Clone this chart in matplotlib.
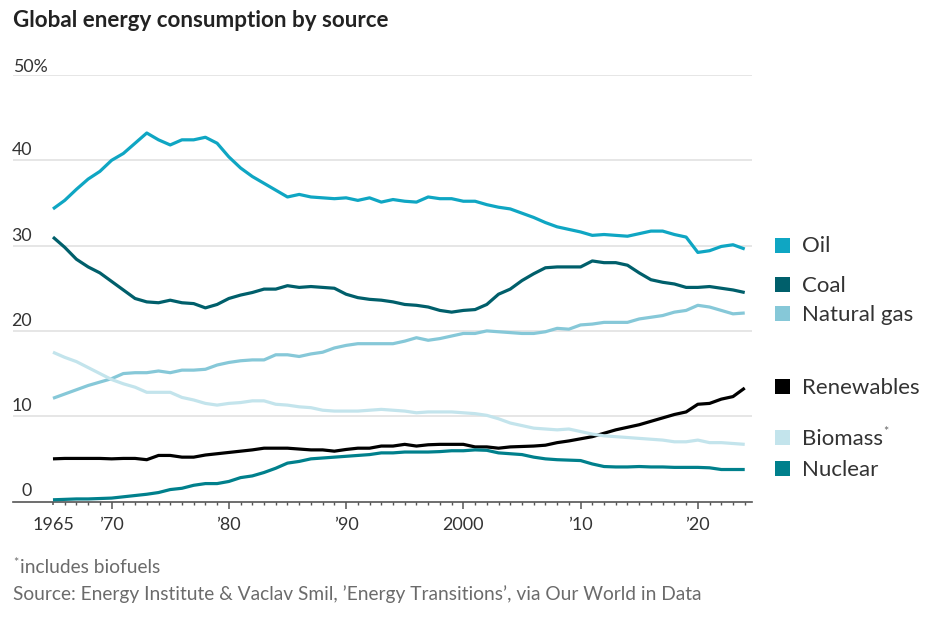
import matplotlib
matplotlib.use("Agg")
import matplotlib.pyplot as plt
from matplotlib.patches import Rectangle
import numpy as np

# ---------------- data ----------------
years = list(range(1965, 2025))

oil = [34.3, 35.3, 36.6, 37.8, 38.7, 40.0, 40.8, 42.0, 43.2, 42.4,
       41.8, 42.4, 42.4, 42.7, 42.0, 40.4, 39.1, 38.1, 37.3, 36.5,
       35.7, 36.0, 35.7, 35.6, 35.5, 35.6, 35.3, 35.6, 35.1, 35.4,
       35.2, 35.1, 35.7, 35.5, 35.5, 35.2, 35.2, 34.8, 34.5, 34.3,
       33.8, 33.3, 32.7, 32.2, 31.9, 31.6, 31.2, 31.3, 31.2, 31.1,
       31.4, 31.7, 31.7, 31.3, 31.0, 29.2, 29.4, 29.9, 30.1, 29.6]

coal = [31.0, 29.8, 28.4, 27.5, 26.8, 25.8, 24.8, 23.8, 23.4, 23.3,
        23.6, 23.3, 23.2, 22.7, 23.1, 23.8, 24.2, 24.5, 24.9, 24.9,
        25.3, 25.1, 25.2, 25.1, 25.0, 24.3, 23.9, 23.7, 23.6, 23.4,
        23.1, 23.0, 22.8, 22.4, 22.2, 22.4, 22.5, 23.1, 24.3, 24.9,
        25.9, 26.7, 27.4, 27.5, 27.5, 27.5, 28.2, 28.0, 28.0, 27.7,
        26.8, 26.0, 25.7, 25.5, 25.1, 25.1, 25.2, 25.0, 24.8, 24.5]

natural_gas = [12.1, 12.6, 13.1, 13.6, 14.0, 14.4, 15.0, 15.1, 15.1, 15.3,
               15.1, 15.4, 15.4, 15.5, 16.0, 16.3, 16.5, 16.6, 16.6, 17.2,
               17.2, 17.0, 17.3, 17.5, 18.0, 18.3, 18.5, 18.5, 18.5, 18.5,
               18.8, 19.2, 18.9, 19.1, 19.4, 19.7, 19.7, 20.0, 19.9, 19.8,
               19.7, 19.7, 19.9, 20.3, 20.2, 20.7, 20.8, 21.0, 21.0, 21.0,
               21.4, 21.6, 21.8, 22.2, 22.4, 23.0, 22.8, 22.4, 22.0, 22.1]

renewables = [5.0, 5.05, 5.05, 5.05, 5.05, 5.0, 5.05, 5.05, 4.9, 5.4,
              5.4, 5.2, 5.2, 5.45, 5.6, 5.75, 5.9, 6.05, 6.25, 6.25,
              6.25, 6.15, 6.05, 6.05, 5.9, 6.1, 6.25, 6.25, 6.5, 6.5,
              6.7, 6.5, 6.65, 6.7, 6.7, 6.7, 6.4, 6.4, 6.25, 6.4,
              6.45, 6.5, 6.6, 6.9, 7.1, 7.35, 7.6, 8.0, 8.4, 8.7,
              9.0, 9.4, 9.8, 10.2, 10.5, 11.4, 11.5, 12.0, 12.3, 13.3]

biomass = [17.5, 16.9, 16.4, 15.7, 15.0, 14.3, 13.8, 13.4, 12.8, 12.8,
           12.8, 12.2, 11.9, 11.5, 11.3, 11.5, 11.6, 11.8, 11.8, 11.4,
           11.3, 11.1, 11.0, 10.7, 10.6, 10.6, 10.6, 10.7, 10.8, 10.7,
           10.6, 10.4, 10.5, 10.5, 10.5, 10.4, 10.3, 10.1, 9.7, 9.2,
           8.9, 8.6, 8.5, 8.4, 8.5, 8.2, 7.9, 7.7, 7.6, 7.5,
           7.4, 7.3, 7.2, 7.0, 7.0, 7.2, 6.9, 6.9, 6.8, 6.7]

nuclear = [0.2, 0.25, 0.3, 0.3, 0.35, 0.4, 0.55, 0.7, 0.85, 1.05,
           1.4, 1.55, 1.9, 2.1, 2.1, 2.35, 2.8, 3.0, 3.4, 3.9,
           4.5, 4.7, 5.0, 5.1, 5.2, 5.3, 5.4, 5.5, 5.7, 5.7,
           5.8, 5.8, 5.8, 5.85, 5.95, 5.95, 6.05, 6.0, 5.7, 5.6,
           5.5, 5.2, 5.0, 4.9, 4.85, 4.8, 4.4, 4.1, 4.05, 4.05,
           4.1, 4.05, 4.05, 4.0, 4.0, 4.0, 3.95, 3.75, 3.75, 3.75]

series_names = ["Oil", "Coal", "Natural gas", "Renewables", "Biomass", "Nuclear"]
series_values = [oil, coal, natural_gas, renewables, biomass, nuclear]
series_colors = ["#0fa6c3", "#005f6b", "#86c8d8", "#000000", "#c3e4ec", "#00808c"]

y_ticks = [0, 10, 20, 30, 40, 50]
y_tick_labels = ["0", "10", "20", "30", "40", "50%"]
x_ticks = [1965, 1970, 1980, 1990, 2000, 2010, 2020]
x_tick_labels = ["1965", "\u201970", "\u201980", "\u201990", "2000", "\u201910", "\u201920"]

title = "Global energy consumption by source"
footnote = "includes biofuels"
source = "Source: Energy Institute & Vaclav Smil, \u2019Energy Transitions\u2019, via Our World in Data"

# ---------------- layout ----------------
W, H = 939, 618
plt.rcParams['font.family'] = ['Lato', 'DejaVu Sans']
fig = plt.figure(figsize=(W / 100, H / 100), dpi=100)

def fx(px):
    return px / W

def fy(py):
    return 1 - py / H

ax_left, ax_right, ax_top, ax_bottom = 13, 752, 75, 501.5
ax = fig.add_axes([fx(ax_left), fy(ax_bottom), (ax_right - ax_left) / W, (ax_bottom - ax_top) / H])
ax.set_xlim(1961.59, 2024.62)
ax.set_ylim(0, 50)

for s in ["top", "right", "left"]:
    ax.spines[s].set_visible(False)
ax.spines["bottom"].set_color("#555555")
ax.spines["bottom"].set_linewidth(1.2)
ax.spines["bottom"].set_zorder(1)

for v in y_ticks[1:]:
    ax.axhline(v, color="#e4e4e4", lw=1.3, zorder=0)

ax.set_yticks([])
for v, lab in zip(y_ticks, y_tick_labels):
    if lab.endswith("%"):
        ax.annotate(lab, xy=(0, v), xycoords=("axes fraction", "data"),
                    xytext=(0, 2.5), textcoords="offset points",
                    ha="left", va="baseline", fontsize=12.8, color="#333333")
    else:
        ax.annotate(lab, xy=(19 / (ax_right - ax_left), v), xycoords=("axes fraction", "data"),
                    xytext=(0, 3.5 if v else 4), textcoords="offset points",
                    ha="right", va="baseline", fontsize=12.8, color="#333333")

ax.set_xticks(x_ticks)
ax.set_xticklabels(x_tick_labels)
ax.set_xticks(years, minor=True)
ax.tick_params(axis="x", which="major", length=5, width=1.1, color="#555555",
               pad=6.5, labelsize=13, labelcolor="#333333")
ax.tick_params(axis="x", which="minor", length=2.5, width=1.0, color="#555555")
ax.xaxis.get_major_ticks()[0].tick1line.set_markersize(2.5)

for name, vals, col in zip(series_names, series_values, series_colors):
    ax.plot(years, vals, color=col, lw=2.3, solid_joinstyle="round",
            solid_capstyle="butt", zorder=3, clip_on=False)

# legend
legend_centers_px = [245, 284, 313.5, 386, 437.5, 468]
sq = 15
for name, col, cy in zip(series_names, series_colors, legend_centers_px):
    fig.patches.append(Rectangle((fx(775), fy(cy + sq / 2)), sq / W, sq / H,
                                 transform=fig.transFigure, color=col, lw=0))
    t = fig.text(fx(802), fy(cy + 7.5), name, fontsize=16, color="#333333",
                 ha="left", va="baseline")
    if name == "Biomass":
        fig.canvas.draw()
        bb = t.get_window_extent()
        fig.text(bb.x1 / W, fy(cy - 1), "*", fontsize=9, color="#666666",
                 ha="left", va="baseline")

# title & notes
fig.text(fx(13), fy(27), title, fontsize=16.1, fontweight="bold", color="#222222",
         ha="left", va="baseline")
fig.text(fx(13), fy(567), "*", fontsize=9, color="#6b6b6b", ha="left", va="baseline")
fig.text(fx(20), fy(573), footnote, fontsize=13.8, color="#6b6b6b", ha="left", va="baseline")
fig.text(fx(13), fy(600), source, fontsize=13.8, color="#6b6b6b", ha="left", va="baseline")

fig.savefig("out.png", dpi=100, facecolor="white")
